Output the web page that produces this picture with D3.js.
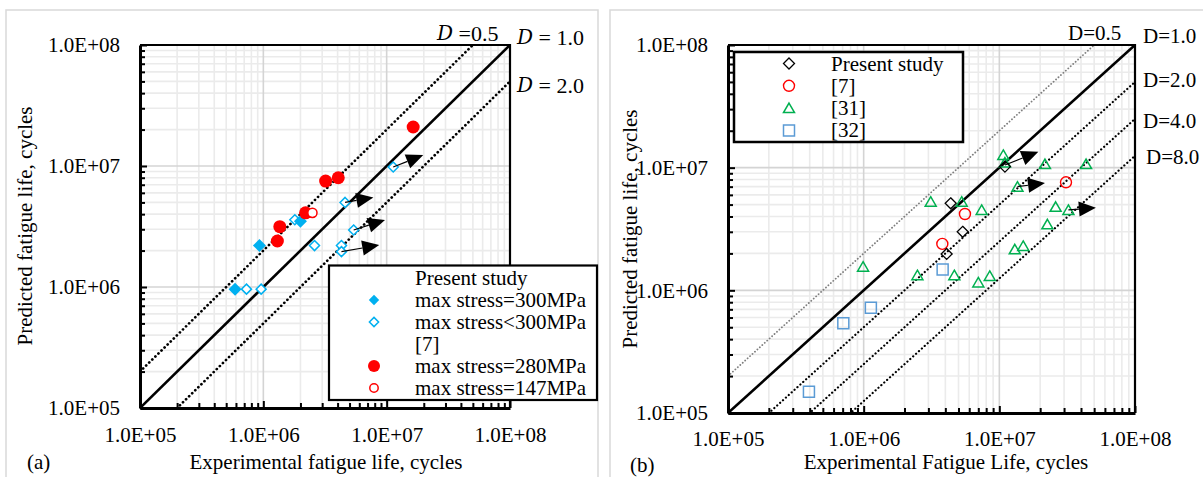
<!DOCTYPE html>
<html>
<head>
<meta charset="utf-8">
<script src="https://cdn.jsdelivr.net/npm/d3@7"></script>
<style>
  html, body { margin: 0; padding: 0; background: #fff; }
  svg { display: block; font-family: "Liberation Serif", "Times New Roman", serif; }
</style>
</head>
<body>
<svg id="chart" width="1203" height="477"></svg>
<script>
// ---- shared axis data ----
const decades = [1e5, 1e6, 1e7, 1e8];
const decadeLabels = ["1.0E+05", "1.0E+06", "1.0E+07", "1.0E+08"];

// ---- panel (a): present study and [7] ----
const damageA = [0.5, 1.0, 2.0];
const damageLabelsA = ["0.5", "1.0", "2.0"];

const a300Exp  = [5.9e5, 9.3e5, 2.0e6];
const a300Pred = [9.6e5, 2.2e6, 3.5e6];

const aBelow300Exp  = [7.3e5, 9.6e5, 1.8e6, 2.6e6, 4.3e6, 4.3e6, 4.6e6, 5.4e6, 1.13e7];
const aBelow300Pred = [9.6e5, 9.6e5, 3.6e6, 2.2e6, 2.2e6, 1.96e6, 5.0e6, 2.96e6, 9.8e6];

const a280Exp  = [1.30e6, 1.36e6, 2.2e6, 3.2e6, 4.05e6, 1.64e7];
const a280Pred = [2.4e6, 3.15e6, 4.1e6, 7.5e6, 8.0e6, 2.1e7];

const a147Exp  = [2.5e6];
const a147Pred = [4.1e6];

// run-out specimens: [experimental, predicted] start and end of each arrow
const aRunoutFrom = [[1.13e7, 9.8e6], [4.6e6, 5.0e6], [5.4e6, 2.96e6], [4.3e6, 1.96e6]];
const aRunoutTo   = [[1.98e7, 1.23e7], [7.8e6, 5.5e6], [9.7e6, 3.58e6], [8.7e6, 2.22e6]];

const legendLabelsA = ["Present study", "max stress=300MPa", "max stress<300MPa", "[7]",
                       "max stress=280MPa", "max stress=147MPa"];

// ---- panel (b): comparison with literature ----
const damageB = [0.5, 1.0, 2.0, 4.0, 8.0];
const damageLabelsB = ["D=0.5", "D=1.0", "D=2.0", "D=4.0", "D=8.0"];

const bPresentExp  = [4.38e6, 5.37e6, 4.09e6, 1.1e7];
const bPresentPred = [5.12e6, 3.0e6, 1.98e6, 1.02e7];

const bRef7Exp  = [3.8e6, 5.58e6, 3.1e7];
const bRef7Pred = [2.39e6, 4.19e6, 7.6e6];

const bRef31Exp  = [3.12e6, 5.28e6, 7.41e6, 9.9e5, 2.49e6, 4.66e6, 7.0e6, 8.5e6, 1.07e7,
                    1.1e7, 2.17e7, 4.36e7, 1.36e7, 2.6e7, 3.23e7, 2.26e7, 1.30e7, 1.50e7];
const bRef31Pred = [5.28e6, 5.28e6, 4.52e6, 1.56e6, 1.33e6, 1.33e6, 1.16e6, 1.31e6, 1.27e7,
                    1.10e7, 1.07e7, 1.07e7, 7.0e6, 4.8e6, 4.52e6, 3.45e6, 2.16e6, 2.3e6];

const bRef32Exp  = [3.95e5, 7.08e5, 1.13e6, 3.82e6];
const bRef32Pred = [1.49e5, 5.39e5, 7.2e5, 1.48e6];

const bRunoutFrom = [[1.1e7, 1.05e7], [1.36e7, 7.0e6], [3.23e7, 4.52e6]];
const bRunoutTo   = [[1.94e7, 1.35e7], [2.17e7, 7.5e6], [5.15e7, 4.72e6]];

const legendLabelsB = ["Present study", "[7]", "[31]", "[32]"];

// ---- drawing helpers ----
const svg = d3.select("#chart");
const FONT = 21;

const shapes = {
  diamond: h => `M0,${-h}L${h},0L0,${h}L${-h},0Z`,
  square: h => `M${-h},${-h}H${h}V${h}H${-h}Z`,
  triangle: h => `M0,${-h}L${h * 1.1},${h * 0.9}L${-h * 1.1},${h * 0.9}Z`,
  circle: h => d3.symbol(d3.symbolCircle, Math.PI * h * h)()
};

function drawMarker(g, m, x, y) {
  g.append("path")
    .attr("transform", `translate(${x},${y})`)
    .attr("d", shapes[m.shape](m.size))
    .attr("fill", m.fill || "none")
    .attr("stroke", m.stroke || "none")
    .attr("stroke-width", m.sw || 0);
}

function panelFrame(p) {
  svg.append("rect")
    .attr("x", p.frame[0]).attr("y", p.frame[1])
    .attr("width", p.frame[2]).attr("height", p.frame[3])
    .attr("fill", "#fff").attr("stroke", "#d9d9d9").attr("stroke-width", 1.5);
}

function drawPanel(p) {
  panelFrame(p);
  const x = d3.scaleLog().domain([1e5, 1e8]).range([p.left, p.right]);
  const y = d3.scaleLog().domain([1e5, 1e8]).range([p.bottom, p.top]);
  const g = svg.append("g");

  const minors = [];
  decades.slice(0, 3).forEach(d => { for (let k = 2; k <= 9; k++) minors.push(d * k); });
  const allTicks = decades.concat(minors).sort((a, b) => a - b);

  // minor then major gridlines
  const grid = g.append("g");
  minors.forEach(v => {
    grid.append("line").attr("x1", x(v)).attr("x2", x(v)).attr("y1", p.top).attr("y2", p.bottom)
      .attr("stroke", "#ebebeb").attr("stroke-width", 1.6);
    grid.append("line").attr("x1", p.left).attr("x2", p.right).attr("y1", y(v)).attr("y2", y(v))
      .attr("stroke", "#ebebeb").attr("stroke-width", 1.6);
  });
  decades.slice(1, 3).forEach(v => {
    grid.append("line").attr("x1", x(v)).attr("x2", x(v)).attr("y1", p.top).attr("y2", p.bottom)
      .attr("stroke", "#d4d4d4").attr("stroke-width", 1.6);
    grid.append("line").attr("x1", p.left).attr("x2", p.right).attr("y1", y(v)).attr("y2", y(v))
      .attr("stroke", "#d4d4d4").attr("stroke-width", 1.6);
  });

  // clip region for lines and markers
  const clipId = "clip-" + p.id;
  svg.append("clipPath").attr("id", clipId).append("rect")
    .attr("x", p.left).attr("y", p.top).attr("width", p.right - p.left).attr("height", p.bottom - p.top);
  const plot = g.append("g").attr("clip-path", `url(#${clipId})`);

  // damage lines: predicted = experimental / D
  p.damage.forEach(D => {
    const x0 = 1e5, x1 = 1e8;
    const style = p.lineStyle(D);
    plot.append("line")
      .attr("x1", x(x0)).attr("y1", y(x0 / D))
      .attr("x2", x(x1)).attr("y2", y(x1 / D))
      .attr("stroke", style.color).attr("stroke-width", style.width)
      .attr("stroke-dasharray", style.dash).attr("stroke-linecap", style.cap || "butt");
  });

  // plot border (top, right)
  g.append("path")
    .attr("d", `M${p.left},${p.top}H${p.right}V${p.bottom}`)
    .attr("fill", "none").attr("stroke", "#000").attr("stroke-width", 2.2);

  // axes with inward ticks
  const labelOf = v => { const i = decades.indexOf(v); return i >= 0 ? decadeLabels[i] : ""; };
  const yAxis = g.append("g").attr("transform", `translate(${p.left},0)`)
    .call(d3.axisLeft(y).tickValues(allTicks).tickSizeInner(-5).tickSizeOuter(0)
      .tickPadding(p.yPad).tickFormat(labelOf));
  const xAxis = g.append("g").attr("transform", `translate(0,${p.bottom})`)
    .call(d3.axisBottom(x).tickValues(allTicks).tickSizeInner(-5).tickSizeOuter(0)
      .tickPadding(p.xPad).tickFormat(labelOf));
  [yAxis, xAxis].forEach(ax => {
    ax.select(".domain").attr("stroke", "#000").attr("stroke-width", 3);
    ax.selectAll(".tick line").attr("stroke", "#000").attr("stroke-width", 2);
    ax.selectAll(".tick text").attr("font-size", FONT).attr("fill", "#000")
      .attr("font-family", "Liberation Serif");
  });
  yAxis.selectAll(".tick").filter(d => decades.includes(d)).select("line").attr("x2", 7);
  xAxis.selectAll(".tick").filter(d => decades.includes(d)).select("line").attr("y2", -7);

  // data series
  p.series.forEach(s => {
    s.exp.forEach((v, i) => drawMarker(plot, s.marker, x(v), y(s.pred[i])));
  });

  // run-out arrows
  p.runFrom.forEach((f, i) => {
    const t = p.runTo[i];
    const x0 = x(f[0]), y0 = y(f[1]), x1 = x(t[0]), y1 = y(t[1]);
    const ang = Math.atan2(y1 - y0, x1 - x0);
    const len = 17, hw = 7.5;
    const bx = x1 - len * Math.cos(ang), by = y1 - len * Math.sin(ang);
    g.append("line").attr("x1", x0).attr("y1", y0).attr("x2", bx).attr("y2", by)
      .attr("stroke", "#000").attr("stroke-width", 1.2);
    g.append("path")
      .attr("d", `M${x1},${y1}L${bx - hw * Math.sin(ang)},${by + hw * Math.cos(ang)}` +
                 `L${bx + hw * Math.sin(ang)},${by - hw * Math.cos(ang)}Z`)
      .attr("fill", "#000");
  });

  // axis titles and panel tag
  svg.append("text").attr("x", p.xTitlePos[0]).attr("y", p.xTitlePos[1])
    .attr("text-anchor", "middle").attr("dominant-baseline", "central")
    .attr("font-size", FONT).text(p.xTitle);
  svg.append("text")
    .attr("transform", `translate(${p.yTitlePos[0]},${p.yTitlePos[1]}) rotate(-90)`)
    .attr("text-anchor", "middle").attr("dominant-baseline", "central")
    .attr("font-size", FONT).text(p.yTitle);
  svg.append("text").attr("x", p.tagPos[0]).attr("y", p.tagPos[1])
    .attr("dominant-baseline", "central").attr("font-size", FONT).text(p.tag);

  return { x, y, g };
}

// ---------- panel (a) ----------
const markA = {
  s300: { shape: "diamond", size: 6.5, fill: "#00b0f0" },
  sBelow: { shape: "diamond", size: 5, stroke: "#00b0f0", sw: 1.5, fill: "#fff" },
  s280: { shape: "circle", size: 6.5, fill: "#ff0000" },
  s147: { shape: "circle", size: 4.6, stroke: "#ff0000", sw: 1.5, fill: "#fff" }
};

const pa = drawPanel({
  id: "a", frame: [6, 10, 592, 480],
  left: 140, right: 510, top: 45, bottom: 408,
  yPad: 20, xPad: 19,
  damage: damageA,
  lineStyle: D => D === 1 ? { color: "#000", width: 2.6, dash: null }
                          : { color: "#000", width: 2.7, dash: "0.1,4.2", cap: "round" },
  series: [
    { exp: aBelow300Exp, pred: aBelow300Pred, marker: markA.sBelow },
    { exp: a300Exp, pred: a300Pred, marker: markA.s300 },
    { exp: a280Exp, pred: a280Pred, marker: markA.s280 },
    { exp: a147Exp, pred: a147Pred, marker: markA.s147 }
  ],
  runFrom: aRunoutFrom, runTo: aRunoutTo,
  xTitle: "Experimental fatigue life, cycles", xTitlePos: [326, 462],
  yTitle: "Predicted fatigue life, cycles", yTitlePos: [25, 226],
  tag: "(a)", tagPos: [27, 462]
});

// damage labels (a): italic D with spaced equals
const dPosA = [[437, 33], [517, 37], [517, 85]];
damageA.forEach((D, i) => {
  const t = svg.append("text").attr("x", dPosA[i][0]).attr("y", dPosA[i][1])
    .attr("dominant-baseline", "central").attr("font-size", 22);
  t.append("tspan").attr("font-style", "italic").attr("font-family", "DejaVu Serif")
    .attr("font-size", 20).text("D");
  t.append("tspan").text(D === 0.5 ? " =" + damageLabelsA[i] : " = " + damageLabelsA[i]);
});

// legend (a)
const legA = svg.append("g");
legA.append("rect").attr("x", 329).attr("y", 265.5).attr("width", 268).attr("height", 134.5)
  .attr("fill", "#fff").attr("stroke", "#000").attr("stroke-width", 2.2);
const legMarkA = [null, markA.s300, markA.sBelow, null, markA.s280, markA.s147];
const legSizeA = [0, 5.2, 4.6, 0, 6, 4.2];
legendLabelsA.forEach((lab, i) => {
  const cy = 278 + i * 22;
  if (legMarkA[i]) drawMarker(legA, Object.assign({}, legMarkA[i], { size: legSizeA[i] }), 374, cy);
  legA.append("text").attr("x", 415).attr("y", cy).attr("dominant-baseline", "central")
    .attr("font-size", FONT).text(lab);
});

// ---------- panel (b) ----------
const markB = {
  present: { shape: "diamond", size: 5.5, stroke: "#000", sw: 1.3, fill: "none" },
  ref7: { shape: "circle", size: 5.5, stroke: "#ff0000", sw: 1.4, fill: "none" },
  ref31: { shape: "triangle", size: 5, stroke: "#00b050", sw: 1.5, fill: "none" },
  ref32: { shape: "square", size: 5.5, stroke: "#5b9bd5", sw: 1.5, fill: "none" }
};

const pb = drawPanel({
  id: "b", frame: [610, 10, 600, 480],
  left: 728, right: 1135, top: 45, bottom: 413,
  yPad: 20, xPad: 18,
  damage: damageB,
  lineStyle: D => D === 1 ? { color: "#000", width: 2.6, dash: null }
    : D === 0.5 ? { color: "#7f7f7f", width: 1.8, dash: "0.1,3.2", cap: "round" }
    : { color: "#000", width: 2.2, dash: "0.1,3.8", cap: "round" },
  series: [
    { exp: bRef31Exp, pred: bRef31Pred, marker: markB.ref31 },
    { exp: bRef32Exp, pred: bRef32Pred, marker: markB.ref32 },
    { exp: bRef7Exp, pred: bRef7Pred, marker: markB.ref7 },
    { exp: bPresentExp, pred: bPresentPred, marker: markB.present }
  ],
  runFrom: bRunoutFrom, runTo: bRunoutTo,
  xTitle: "Experimental Fatigue Life, cycles", xTitlePos: [946, 462],
  yTitle: "Predicted fatigue life, cycles", yTitlePos: [630, 229],
  tag: "(b)", tagPos: [630, 465]
});

const dPosB = [[1068, 33], [1143, 36], [1143, 80], [1143, 121], [1146, 157]];
damageLabelsB.forEach((lab, i) => {
  svg.append("text").attr("x", dPosB[i][0]).attr("y", dPosB[i][1])
    .attr("dominant-baseline", "central").attr("font-size", FONT).text(lab);
});

// legend (b)
const legB = svg.append("g");
legB.append("rect").attr("x", 734).attr("y", 52).attr("width", 229).attr("height", 90)
  .attr("fill", "#fff").attr("stroke", "#000").attr("stroke-width", 2.5);
const legMarkB = [markB.present, markB.ref7, markB.ref31, markB.ref32];
legendLabelsB.forEach((lab, i) => {
  const cy = 63.5 + i * 22.3;
  drawMarker(legB, legMarkB[i], 789, cy);
  legB.append("text").attr("x", 831).attr("y", cy).attr("dominant-baseline", "central")
    .attr("font-size", FONT).text(lab);
});
</script>
</body>
</html>
